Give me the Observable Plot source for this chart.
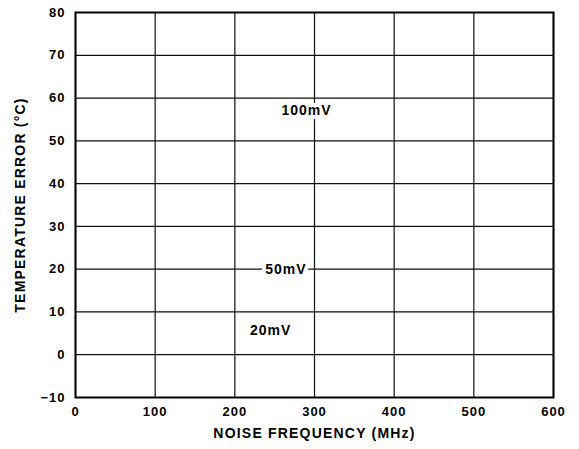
<!DOCTYPE html>
<html>
<head>
<meta charset="utf-8">
<script src="https://cdn.jsdelivr.net/npm/d3@7"></script>
<script src="https://cdn.jsdelivr.net/npm/@observablehq/plot@0.6"></script>
<style>
  html, body { margin: 0; padding: 0; background: #fff; }
  svg { font-family: "Liberation Sans", Arial, Helvetica, sans-serif; font-weight: bold; }
</style>
</head>
<body>
<div id="chart"></div>
<script>
const freqTicks = [0, 100, 200, 300, 400, 500, 600];
const tempTicks = [-10, 0, 10, 20, 30, 40, 50, 60, 70, 80];
const curveLabels = ["100mV", "50mV", "20mV"];
const labelFreq = [290, 264, 245];
const labelTemp = [57, 20, 5.7];

const labelData = curveLabels.map((t, i) => ({text: t, f: labelFreq[i], v: labelTemp[i]}));

const chart = Plot.plot({
  width: 579,
  height: 449,
  marginTop: 12,
  marginBottom: 52,
  marginLeft: 75,
  marginRight: 26,
  style: {fontFamily: "'Liberation Sans', Arial, sans-serif", fontWeight: "bold", background: "#fff", color: "#000"},
  x: {domain: [0, 600]},
  y: {domain: [-10, 80]},
  marks: [
    Plot.gridX(freqTicks, {stroke: "#111", strokeOpacity: 1, strokeWidth: 1.2}),
    Plot.gridY(tempTicks, {stroke: "#111", strokeOpacity: 1, strokeWidth: 1.2}),
    Plot.frame({stroke: "#000", strokeWidth: 2}),
    Plot.axisX(freqTicks, {tickSize: 0, tickPadding: 9, fontSize: 13, fontWeight: "bold", label: "NOISE FREQUENCY (MHz)", labelAnchor: "center", labelArrow: "none", labelOffset: 40}),
    Plot.axisY(tempTicks, {tickSize: 0, tickPadding: 10, fontSize: 13, fontWeight: "bold", label: "TEMPERATURE ERROR (°C)", labelAnchor: "center", labelArrow: "none", labelOffset: 60}),
    Plot.text(labelData, {x: "f", y: "v", text: "text", fontSize: 14, fontWeight: "bold", fill: "#000", stroke: "#fff", strokeWidth: 8, strokeLinejoin: "round"})
  ]
});
document.getElementById("chart").appendChild(chart);
d3.select(chart).selectAll("text").style("letter-spacing", "1px");
d3.select(chart).selectAll("[aria-label='x-axis label'] text, [aria-label='y-axis label'] text").style("font-size", "14px").style("letter-spacing", "1.2px");
</script>
</body>
</html>
